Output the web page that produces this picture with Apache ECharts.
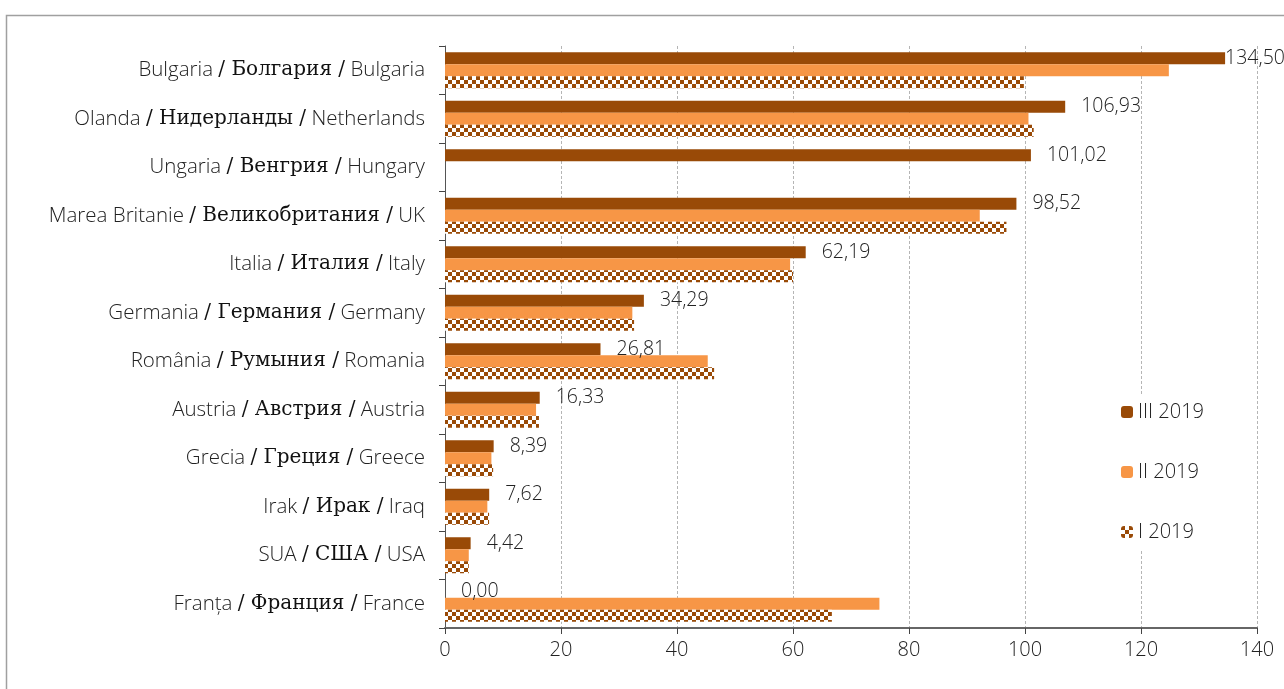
<!DOCTYPE html>
<html>
<head>
<meta charset="utf-8">
<script src="https://cdn.jsdelivr.net/npm/echarts@6/dist/echarts.min.js"></script>
<style>
html,body{margin:0;padding:0;background:#fff;}
#chart{width:1284px;height:689px;}
</style>
</head>
<body>
<div id="chart"></div>
<script>
// Category names (Romanian / Russian / English)
const namesRo = ['Bulgaria','Olanda','Ungaria','Marea Britanie','Italia','Germania','România','Austria','Grecia','Irak','SUA','Franța'];
const namesRu = ['Болгария','Нидерланды','Венгрия','Великобритания','Италия','Германия','Румыния','Австрия','Греция','Ирак','США','Франция'];
const namesEn = ['Bulgaria','Netherlands','Hungary','UK','Italy','Germany','Romania','Austria','Greece','Iraq','USA','France'];

// Series values
const q3_2019 = [134.50, 106.93, 101.02, 98.52, 62.19, 34.29, 26.81, 16.33, 8.39, 7.62, 4.42, 0.00];
const q2_2019 = [124.8, 100.6, null, 92.2, 59.5, 32.3, 45.3, 15.7, 8.0, 7.3, 4.1, 74.9];
const q1_2019 = [99.8, 101.5, null, 96.8, 60.0, 32.6, 46.4, 16.2, 8.3, 7.6, 4.1, 66.7];

const seriesNames = ['III 2019', 'II 2019', 'I 2019'];
const xTicks = { min: 0, max: 140, interval: 20 };

const categories = namesEn.map((n, i) => i);

// checkerboard pattern for I 2019
const pc = document.createElement('canvas');
pc.width = 8; pc.height = 8;
const pctx = pc.getContext('2d');
pctx.fillStyle = '#ffffff';
pctx.fillRect(0, 0, 8, 8);
pctx.fillStyle = '#994a07';
pctx.fillRect(0, 0, 4, 4);
pctx.fillRect(4, 4, 4, 4);

const fmt = v => v.toFixed(2).replace('.', ',');

const chart = echarts.init(document.getElementById('chart'), null, { renderer: 'canvas' });

const latin = { fontFamily: 'Open Sans', fontSize: 20.5, color: '#222', fontWeight: 300 };
const cyr = { fontFamily: 'DejaVu Serif', fontSize: 20, color: '#111' };

chart.setOption({
  backgroundColor: '#ffffff',
  animation: false,
  grid: { left: 445, right: 27, top: 46, bottom: 61, containLabel: false },
  xAxis: {
    type: 'value',
    min: xTicks.min, max: xTicks.max, interval: xTicks.interval,
    axisLine: { show: true, lineStyle: { color: '#666', width: 2 } },
    axisTick: { show: true, length: 6, lineStyle: { color: '#444' } },
    axisLabel: { fontFamily: 'Open Sans', fontSize: 20, color: '#222', fontWeight: 300, margin: 12 },
    splitLine: { show: true, lineStyle: { color: '#b5b5b5', type: [3, 2], width: 1 } }
  },
  yAxis: {
    type: 'category',
    inverse: true,
    data: categories,
    axisLine: { show: true, lineStyle: { color: '#555', width: 1 } },
    axisTick: { show: true, length: 6, lineStyle: { color: '#444' } },
    axisLabel: {
      margin: 20,
      formatter: (v, i) => '{a|' + namesRo[i] + ' }{b|/ ' + namesRu[i] + ' /}{a| ' + namesEn[i] + '}',
      rich: { a: latin, b: cyr }
    },
    splitLine: { show: false }
  },
  legend: {
    orient: 'vertical',
    left: 1113,
    top: 394,
    data: seriesNames,
    itemWidth: 12,
    itemHeight: 12,
    itemGap: 40,
    backgroundColor: '#ffffff',
    padding: [8, 10, 8, 8],
    textStyle: { fontFamily: 'Open Sans', fontSize: 20, color: '#222', fontWeight: 300 }
  },
  series: [
    {
      name: seriesNames[0], type: 'bar', barWidth: 12, barGap: '0%',
      itemStyle: { color: '#994a07' },
      label: {
        show: true, position: 'right', distance: 16,
        fontFamily: 'Open Sans', fontSize: 19.5, color: '#222', fontWeight: 300,
        formatter: p => fmt(p.value)
      },
      data: q3_2019.map((v, i) => i === 0 ? { value: v, label: { distance: 0 } } : v)
    },
    {
      name: seriesNames[1], type: 'bar', barWidth: 12, barGap: '0%',
      itemStyle: { color: '#f79646' },
      data: q2_2019.map(v => v === null ? '-' : v)
    },
    {
      name: seriesNames[2], type: 'bar', barWidth: 12, barGap: '0%',
      itemStyle: { color: { image: pc, repeat: 'repeat' } },
      data: q1_2019.map(v => v === null ? '-' : v)
    }
  ],
  graphic: [
    {
      type: 'polyline',
      shape: { points: [[6.5, 700], [6.5, 15.5], [1290, 15.5]] },
      style: { stroke: '#a0a0a0', lineWidth: 1.5, fill: null },
      silent: true
    }
  ]
});
</script>
</body>
</html>
